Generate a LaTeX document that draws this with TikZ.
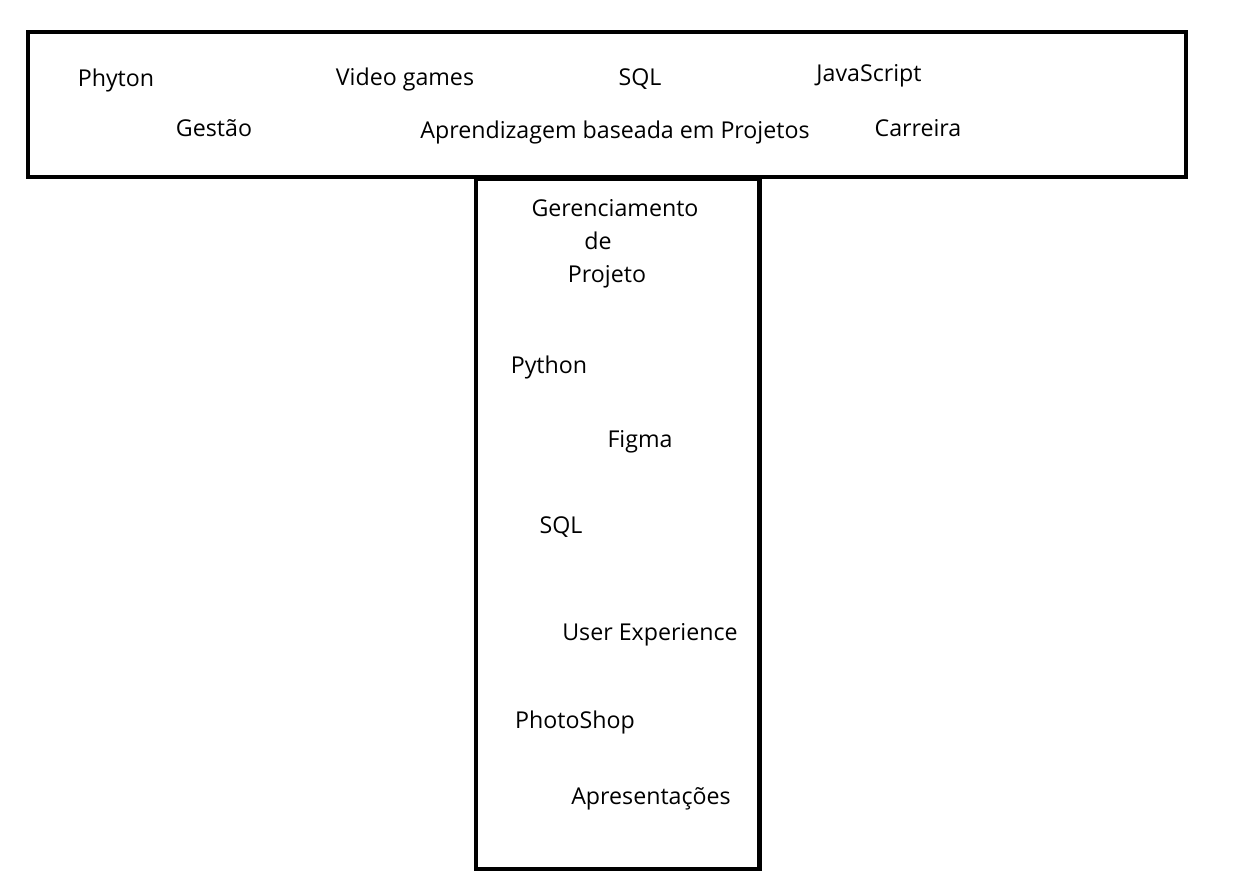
\documentclass[tikz,border=0pt]{standalone}
\usepackage{fontspec}
\setmainfont{Open Sans}
\usepackage{tikz}

\begin{document}
\begin{tikzpicture}[x=0.02cm, y=-0.02cm,
    frame/.style={line width=2.8pt},
    word/.style={font=\fontsize{13.2}{16}\selectfont, inner sep=0pt, anchor=base}]
    \useasboundingbox (0,0) rectangle (1244,874);

    % The T frame
    \draw[frame] (28,32) rectangle (1186,177);
    \draw[frame] (476,179) rectangle (759.5,869);

    % Top bar
    \node[word] (phyton) at (116,87) {Phyton};
    \node[word] (videogames) at (405,86) {Video games};
    \node[word] (sqltop) at (640,86) {SQL};
    \node[word] (javascript) at (869,82) {JavaScript};
    \node[word] (gestao) at (214,137) {Gestão};
    \node[word] (abp) at (615,139) {Aprendizagem baseada em Projetos};
    \node[word] (carreira) at (918,137) {Carreira};

    % Vertical bar
    \node[word] (gerenc) at (615,217) {Gerenciamento};
    \node[word] (gerencde) at (598,250) {de};
    \node[word] (gerencproj) at (607,283) {Projeto};
    \node[word] (python) at (549,374) {Python};
    \node[word] (figma) at (640,448) {Figma};
    \node[word] (sqlbar) at (561,534) {SQL};
    \node[word] (ux) at (650,640) {User Experience};
    \node[word] (photoshop) at (575,728) {PhotoShop};
    \node[word] (apres) at (651,804) {Apresentações};

\end{tikzpicture}
\end{document}
